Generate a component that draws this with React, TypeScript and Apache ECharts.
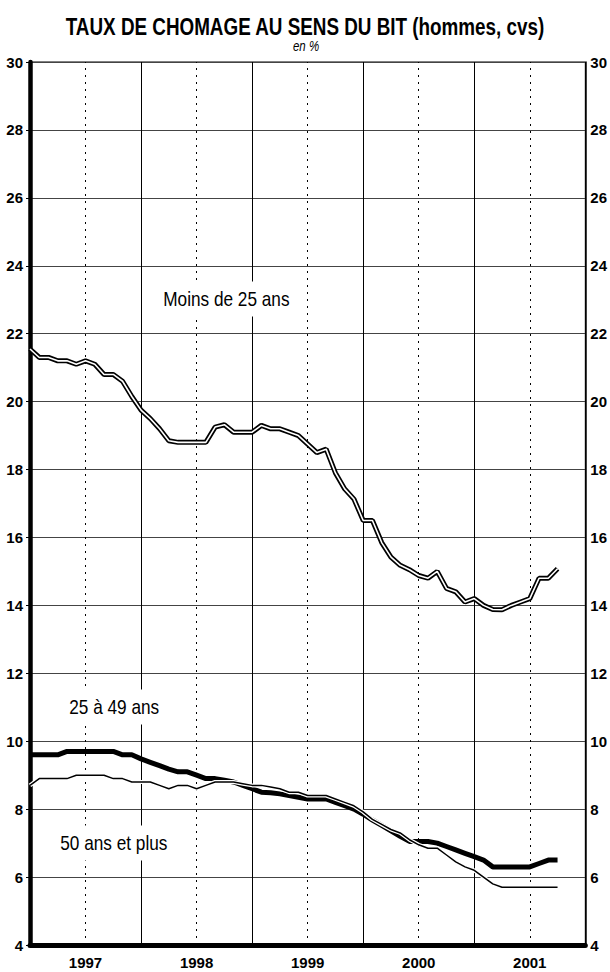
import React, { useEffect, useRef } from "react";
import * as echarts from "echarts";

// Monthly observations, January 1997 onwards (index 0 = Jan 1997)
const years = ["1997", "1998", "1999", "2000", "2001"];
const midYearMonths = [6, 18, 30, 42, 54];

const moinsDe25 = [
  21.55, 21.3, 21.3, 21.2, 21.2, 21.1, 21.2, 21.1, 20.8, 20.8, 20.6, 20.15,
  19.75, 19.5, 19.2, 18.85, 18.8, 18.8, 18.8, 18.8, 19.25, 19.32, 19.1, 19.1,
  19.1, 19.3, 19.2, 19.2, 19.1, 19.0, 18.75, 18.5, 18.6, 17.9, 17.43, 17.13,
  16.5, 16.5, 15.85, 15.42, 15.18, 15.05, 14.88, 14.8, 15.0, 14.5, 14.4, 14.1,
  14.2, 14.0, 13.88, 13.87, 14.0, 14.1, 14.2, 14.8, 14.8, 15.08,
];

const de25a49 = [
  9.6, 9.6, 9.6, 9.6, 9.7, 9.7, 9.7, 9.7, 9.7, 9.7, 9.6, 9.6,
  9.48, 9.38, 9.28, 9.18, 9.1, 9.1, 9.0, 8.9, 8.9, 8.85, 8.8, 8.7,
  8.6, 8.5, 8.48, 8.45, 8.4, 8.35, 8.3, 8.3, 8.3, 8.2, 8.1, 8.0,
  7.85, 7.68, 7.52, 7.36, 7.2, 7.05, 7.05, 7.05, 7.0, 6.9, 6.8, 6.7,
  6.6, 6.5, 6.3, 6.3, 6.3, 6.3, 6.3, 6.4, 6.5, 6.5,
];

const de50EtPlus = [
  8.7, 8.9, 8.9, 8.9, 8.9, 9.0, 9.0, 9.0, 9.0, 8.9, 8.9, 8.8,
  8.8, 8.8, 8.7, 8.6, 8.7, 8.7, 8.6, 8.7, 8.8, 8.8, 8.8, 8.75,
  8.7, 8.7, 8.65, 8.6, 8.5, 8.5, 8.4, 8.4, 8.4, 8.3, 8.2, 8.1,
  7.92, 7.7, 7.55, 7.4, 7.3, 7.1, 6.95, 6.85, 6.85, 6.65, 6.45, 6.3,
  6.2, 6.0, 5.8, 5.7, 5.7, 5.7, 5.7, 5.7, 5.7, 5.7,
];

const seriesNames = ["Moins de 25 ans", "25 à 49 ans", "50 ans et plus"];
const titleText = "TAUX DE CHOMAGE AU SENS DU BIT (hommes, cvs)";
const subtitleText = "en %";

const FONT = '"Liberation Sans", Arial, Helvetica, sans-serif';
const NARROW = 0.82;

const toPairs = (vals: number[]) => vals.map((v, i) => [i, v]);

export default function App() {
  const ref = useRef<HTMLDivElement>(null);

  useEffect(() => {
    document.documentElement.style.overflow = "hidden";
    document.body.style.margin = "0";
    if (!ref.current) return;
    const chart = echarts.init(ref.current, null, { renderer: "svg" });

    const tickLabel = {
      fontFamily: FONT,
      fontSize: 15,
      fontWeight: "bold" as const,
      color: "#000",
    };

    const annotation = (text: string, x: number, y: number) => ({
      type: "text",
      z: 100,
      x,
      y,
      scaleX: NARROW,
      style: {
        text,
        fontFamily: FONT,
        fontSize: 21,
        fill: "#000",
        align: "left",
        verticalAlign: "middle",
        backgroundColor: "#fff",
        padding: [7, 4],
      },
    });

    chart.setOption({
      animation: false,
      backgroundColor: "#fff",
      grid: {
        left: 30,
        right: 22,
        top: 62,
        bottom: 27,
        show: true,
        borderColor: "#000",
        borderWidth: 1,
        backgroundColor: "transparent",
      },
      xAxis: [
        {
          type: "value",
          min: 0,
          max: 60,
          interval: 12,
          axisLine: { show: true, onZero: false, lineStyle: { color: "#000", width: 5 } },
          axisTick: { show: false },
          axisLabel: { show: false },
          splitLine: { show: true, lineStyle: { color: "#000", width: 1 } },
        },
        {
          type: "value",
          min: 0,
          max: 60,
          interval: 6,
          position: "bottom",
          axisLine: { show: false },
          axisTick: { show: false },
          splitLine: { show: false },
          axisLabel: {
            show: true,
            margin: 10,
            formatter: (v: number) => (v % 12 === 6 ? years[(v - 6) / 12] : ""),
            ...tickLabel,
          },
        },
      ],
      yAxis: [
        {
          type: "value",
          min: 4,
          max: 30,
          interval: 2,
          position: "left",
          axisLine: { show: true, onZero: false, lineStyle: { color: "#000", width: 4.5 } },
          axisTick: { show: true, length: 4, lineStyle: { color: "#000", width: 1 } },
          axisLabel: { margin: 7, ...tickLabel },
          splitLine: { show: true, lineStyle: { color: "#444", width: 1 } },
        },
        {
          type: "value",
          min: 4,
          max: 30,
          interval: 2,
          position: "right",
          axisLine: { show: true, onZero: false, lineStyle: { color: "#000", width: 1.5 } },
          axisTick: { show: false },
          axisLabel: { margin: 5, ...tickLabel },
          splitLine: { show: false },
        },
      ],
      series: [
        {
          name: seriesNames[0],
          type: "line",
          data: toPairs(moinsDe25),
          symbol: "none",
          z: 2,
          lineStyle: { color: "#000", width: 5 },
          markLine: {
            silent: true,
            z: 1,
            symbol: "none",
            label: { show: false },
            lineStyle: { color: "#000", width: 1, type: [2, 5] },
            data: midYearMonths.map((m) => ({ xAxis: m })),
          },
        },
        {
          name: seriesNames[0] + " ",
          type: "line",
          data: toPairs(moinsDe25),
          symbol: "none",
          z: 3,
          lineStyle: { color: "#fff", width: 1.6 },
        },
        {
          name: seriesNames[1],
          type: "line",
          data: toPairs(de25a49),
          symbol: "none",
          z: 4,
          lineStyle: { color: "#000", width: 5 },
        },
        {
          name: seriesNames[2] + " ",
          type: "line",
          data: toPairs(de50EtPlus),
          symbol: "none",
          z: 5,
          lineStyle: { color: "#fff", width: 4 },
        },
        {
          name: seriesNames[2],
          type: "line",
          data: toPairs(de50EtPlus),
          symbol: "none",
          z: 6,
          lineStyle: { color: "#000", width: 1.5 },
        },
      ],
      graphic: [
        {
          type: "text",
          z: 100,
          x: 305,
          y: 27,
          scaleX: NARROW,
          style: {
            text: titleText,
            fontFamily: FONT,
            fontSize: 23,
            fontWeight: "bold",
            fill: "#000",
            align: "center",
            verticalAlign: "middle",
          },
        },
        {
          type: "text",
          z: 100,
          x: 306,
          y: 46,
          scaleX: NARROW,
          style: {
            text: subtitleText,
            fontFamily: FONT,
            fontSize: 14,
            fontStyle: "italic",
            fill: "#000",
            align: "center",
            verticalAlign: "middle",
          },
        },
        annotation(seriesNames[0], 160, 299),
        annotation(seriesNames[1], 66, 707),
        annotation(seriesNames[2], 57, 843),
      ],
    });

    return () => chart.dispose();
  }, []);

  return (
    <div
      ref={ref}
      style={{ position: "fixed", left: 0, top: 0, width: 610, height: 972, background: "#fff" }}
    />
  );
}
